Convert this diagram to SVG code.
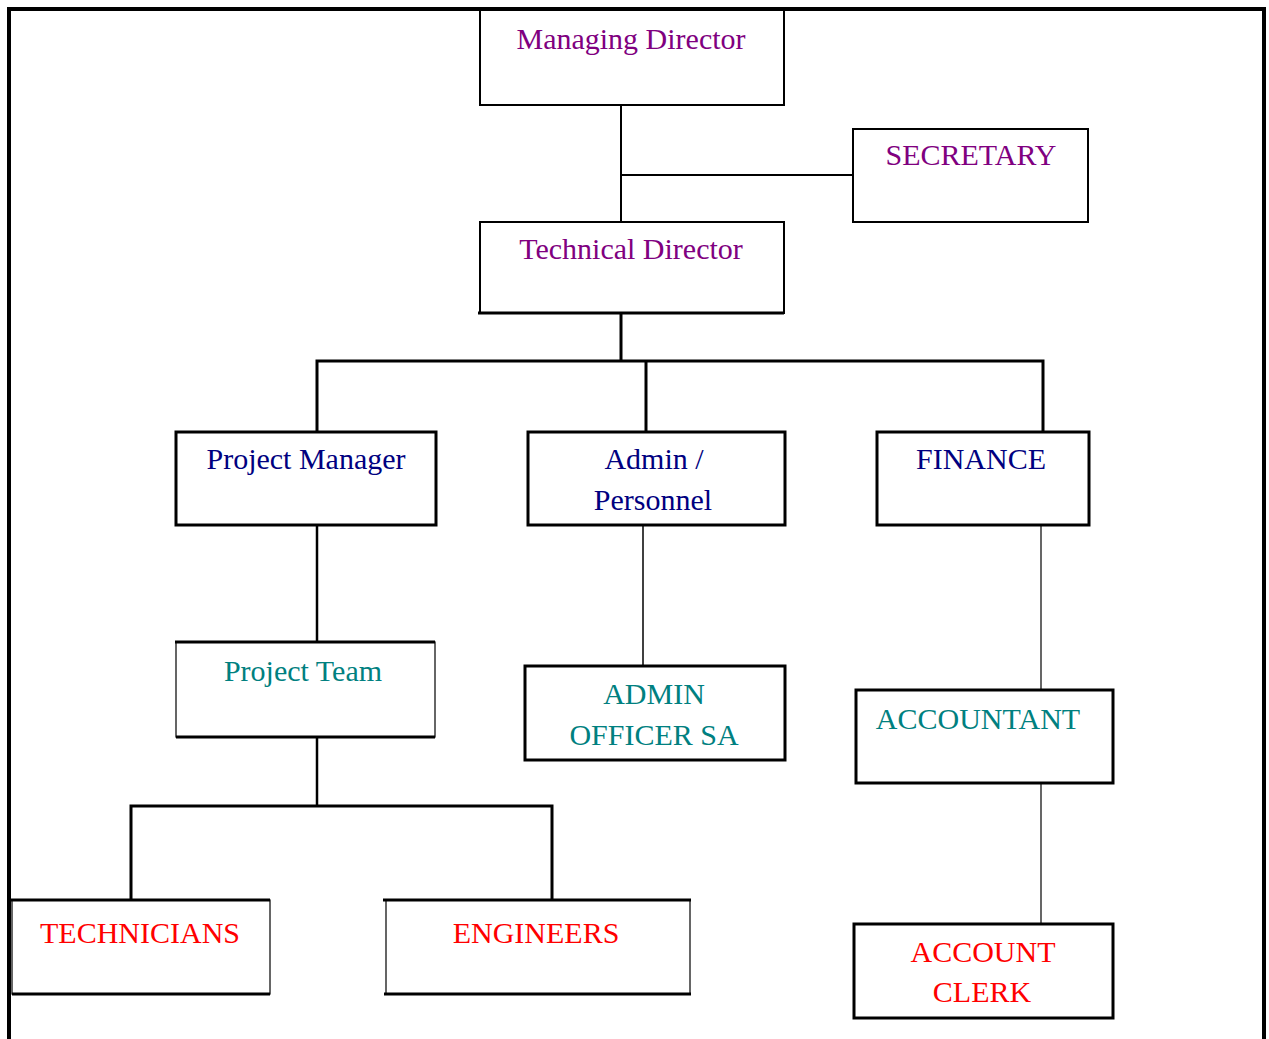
<svg xmlns="http://www.w3.org/2000/svg" width="1269" height="1039" viewBox="0 0 1269 1039">
<style>
.box{fill:#fff;stroke:#000}
.t{font-family:"Liberation Serif","Times New Roman",serif;font-size:30px;text-anchor:middle}
.p{fill:#800080}.n{fill:#000080}.g{fill:#008080}.r{fill:#ff0000}
.c{stroke:#000;fill:none}
</style>
<rect width="1269" height="1039" fill="#fff"/>
<path d="M9,1039 V9 H1264 V1039" fill="none" stroke="#000" stroke-width="4"/>
<g id="connectors">
<line class="c" x1="621" y1="105" x2="621" y2="222" stroke-width="2"/>
<line class="c" x1="621" y1="175" x2="853" y2="175" stroke-width="2"/>
<line class="c" x1="621" y1="313" x2="621" y2="361" stroke-width="3"/>
<polyline class="c" points="317,432 317,361 1043,361 1043,432" stroke-width="3"/>
<line class="c" x1="646" y1="361" x2="646" y2="432" stroke-width="3"/>
<line class="c" x1="317" y1="525" x2="317" y2="642" stroke-width="2.5"/>
<line class="c" x1="643" y1="525" x2="643" y2="666" stroke-width="1.5"/>
<line class="c" x1="1041" y1="525" x2="1041" y2="690" stroke-width="1.2"/>
<line class="c" x1="1041" y1="783" x2="1041" y2="924" stroke-width="1.2"/>
<line class="c" x1="317" y1="737" x2="317" y2="806" stroke-width="2.5"/>
<polyline class="c" points="131,900 131,806 552,806 552,900" stroke-width="3"/>
</g>
<g id="managing-director">
<rect class="box" x="480" y="10" width="304" height="95" stroke-width="2"/>
<text class="t p" x="631" y="49">Managing Director</text>
</g>
<g id="secretary">
<rect class="box" x="853" y="129" width="235" height="93" stroke-width="2"/>
<text class="t p" x="971" y="165">SECRETARY</text>
</g>
<g id="technical-director">
<rect class="box" x="480" y="222" width="304" height="91" stroke-width="2"/>
<line x1="478" y1="313" x2="784" y2="313" stroke="#000" stroke-width="3"/>
<text class="t p" x="631" y="259">Technical Director</text>
</g>
<g id="project-manager">
<rect class="box" x="176" y="432" width="260" height="93" stroke-width="3"/>
<text class="t n" x="306" y="469">Project Manager</text>
</g>
<g id="admin-personnel">
<rect class="box" x="528" y="432" width="257" height="93" stroke-width="3"/>
<text class="t n" x="654" y="469">Admin /</text>
<text class="t n" x="653" y="510">Personnel</text>
</g>
<g id="finance">
<rect class="box" x="877" y="432" width="212" height="93" stroke-width="3"/>
<text class="t n" x="981" y="469">FINANCE</text>
</g>
<g id="project-team">
<rect class="box" x="176" y="642" width="259" height="95" stroke-width="1.2"/>
<line x1="175" y1="642" x2="435" y2="642" stroke="#000" stroke-width="3"/>
<line x1="176" y1="737" x2="435" y2="737" stroke="#000" stroke-width="3"/>
<text class="t g" x="303" y="681">Project Team</text>
</g>
<g id="admin-officer">
<rect class="box" x="525" y="666" width="260" height="94" stroke-width="3"/>
<text class="t g" x="654" y="704">ADMIN</text>
<text class="t g" x="654" y="745">OFFICER SA</text>
</g>
<g id="accountant">
<rect class="box" x="856" y="690" width="257" height="93" stroke-width="3"/>
<text class="t g" x="978" y="729">ACCOUNTANT</text>
</g>
<g id="technicians">
<rect class="box" x="12" y="900" width="258" height="94" stroke-width="1.2"/>
<line x1="8" y1="900" x2="270" y2="900" stroke="#000" stroke-width="3"/>
<line x1="12" y1="994" x2="270" y2="994" stroke="#000" stroke-width="3"/>
<text class="t r" x="140" y="943">TECHNICIANS</text>
</g>
<g id="engineers">
<rect class="box" x="386" y="900" width="304" height="94" stroke-width="1.2"/>
<line x1="383" y1="900" x2="691" y2="900" stroke="#000" stroke-width="3"/>
<line x1="384" y1="994" x2="691" y2="994" stroke="#000" stroke-width="3"/>
<text class="t r" x="536" y="943">ENGINEERS</text>
</g>
<g id="account-clerk">
<rect class="box" x="854" y="924" width="259" height="94" stroke-width="3"/>
<text class="t r" x="983" y="962">ACCOUNT</text>
<text class="t r" x="982" y="1002">CLERK</text>
</g>
</svg>
